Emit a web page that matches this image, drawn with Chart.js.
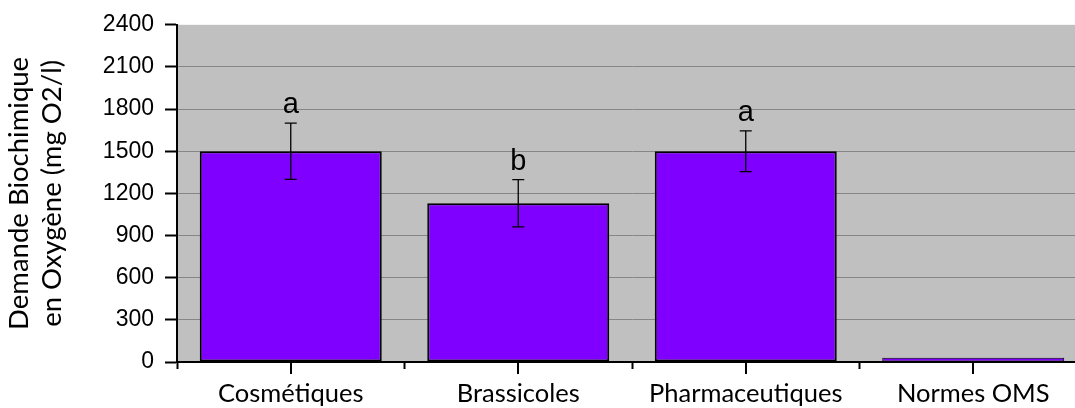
<!DOCTYPE html>
<html>
<head>
<meta charset="utf-8">
<script src="https://cdn.jsdelivr.net/npm/chart.js@4/dist/chart.umd.min.js"></script>
<style>
html,body{margin:0;padding:0;overflow:hidden;background:#ffffff;}
#wrap{width:1100px;height:408px;}
</style>
</head>
<body>
<div id="wrap"><canvas id="c" width="1100" height="408"></canvas></div>
<script>
// ---- data ----
const categories = ['Cosmétiques', 'Brassicoles', 'Pharmaceutiques', 'Normes OMS'];
const dboValues = [1500, 1130, 1500, 30];
const dboErrors = [200, 168, 145, 0];
const groupLetters = ['a', 'b', 'a', ''];
const yTickValues = [0, 300, 600, 900, 1200, 1500, 1800, 2100, 2400];
const yTickLabels = ['0', '300', '600', '900', '1200', '1500', '1800', '2100', '2400'];
const yAxisTitle = ['Demande Biochimique', 'en Oxygène (mg O2/l)'];

// ---- plugins ----
const plotBackground = {
  id: 'plotBackground',
  beforeDraw(chart) {
    const {ctx, chartArea: a} = chart;
    ctx.save();
    ctx.fillStyle = '#C0C0C0';
    ctx.fillRect(a.left, a.top, a.right - a.left, a.bottom - a.top);
    ctx.restore();
  }
};

const errorBarsAndLetters = {
  id: 'errorBarsAndLetters',
  afterDatasetsDraw(chart) {
    const {ctx} = chart;
    const xs = chart.scales.x, ys = chart.scales.y;
    ctx.save();
    dboValues.forEach((v, i) => {
      const x = xs.getPixelForValue(i);
      const e = dboErrors[i];
      let yTop = ys.getPixelForValue(v);
      if (e > 0) {
        yTop = ys.getPixelForValue(v + e);
        const yBot = ys.getPixelForValue(v - e);
        ctx.strokeStyle = '#000';
        ctx.lineWidth = 1.3;
        ctx.beginPath();
        ctx.moveTo(x, yTop); ctx.lineTo(x, yBot);
        ctx.moveTo(x - 6, yTop); ctx.lineTo(x + 6, yTop);
        ctx.moveTo(x - 6, yBot); ctx.lineTo(x + 6, yBot);
        ctx.stroke();
      }
      if (groupLetters[i]) {
        ctx.fillStyle = '#000';
        ctx.font = '29px "Liberation Sans", Arial, sans-serif';
        ctx.textAlign = 'center';
        ctx.textBaseline = 'alphabetic';
        ctx.fillText(groupLetters[i], x, yTop - 10);
      }
    });
    ctx.restore();
  }
};

const centerTicks = {
  id: 'centerTicks',
  afterDraw(chart) {
    const {ctx} = chart;
    const xs = chart.scales.x;
    ctx.save();
    ctx.strokeStyle = '#000';
    ctx.lineWidth = 2;
    categories.forEach((c, i) => {
      const x = Math.round(xs.getPixelForValue(i));
      ctx.beginPath();
      ctx.moveTo(x, xs.top);
      ctx.lineTo(x, xs.top + 12);
      ctx.stroke();
    });
    ctx.restore();
  }
};

new Chart(document.getElementById('c'), {
  type: 'bar',
  data: {
    labels: categories,
    datasets: [{
      data: dboValues,
      backgroundColor: '#8000FF',
      borderColor: '#000000',
      borderWidth: [2, 2, 2, 1],
      borderSkipped: false,
      categoryPercentage: 0.8,
      barPercentage: 1.0
    }]
  },
  options: {
    responsive: false,
    animation: false,
    events: [],
    layout: {padding: {left: 0, top: 23, right: 13, bottom: 0}},
    plugins: {legend: {display: false}, tooltip: {enabled: false}},
    scales: {
      x: {
        offset: true,
        grid: {
          display: true, offset: true, drawOnChartArea: false,
          tickLength: 7, tickWidth: 2, tickColor: '#000', color: '#000'
        },
        border: {display: true, color: '#000', width: 2},
        ticks: {
          color: '#000', padding: 9, maxRotation: 0, autoSkip: false,
          font: {family: 'Lato, "Open Sans", sans-serif', size: 25.5}
        },
        afterFit(s) { s.height = 46; }
      },
      y: {
        min: 0, max: 2400,
        afterBuildTicks(s) { s.ticks = yTickValues.map(v => ({value: v})); },
        grid: {
          color: (c) => (c.tick && c.tick.value === 2400) ? 'rgba(0,0,0,0)' : '#868686',
          lineWidth: 1, tickLength: 12, tickWidth: 2, tickColor: '#000'
        },
        border: {display: true, color: '#000', width: 2},
        ticks: {
          color: '#000', padding: 11,
          font: {family: '"Liberation Sans", Arial, sans-serif', size: 23},
          callback: (value, index) => yTickLabels[index]
        },
        title: {
          display: true,
          text: yAxisTitle,
          color: '#000',
          padding: {top: 3, bottom: 0},
          font: {family: 'Lato, "Open Sans", sans-serif', size: 27.5, lineHeight: 1.2}
        },
        afterFit(s) { s.width = 177; }
      }
    }
  },
  plugins: [plotBackground, errorBarsAndLetters, centerTicks]
});
</script>
</body>
</html>
